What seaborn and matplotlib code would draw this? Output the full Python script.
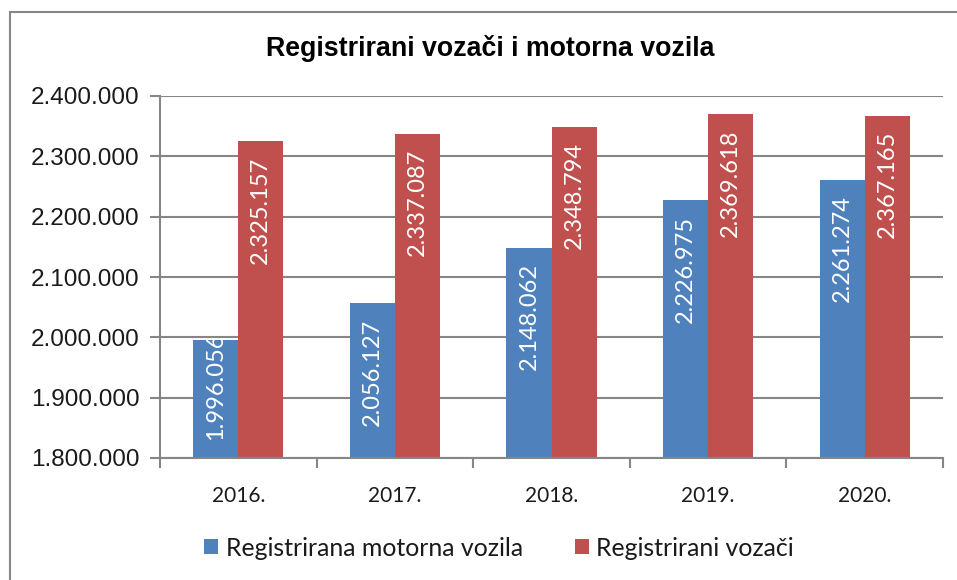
import matplotlib
matplotlib.use('Agg')
import matplotlib.pyplot as plt
import seaborn as sns
import pandas as pd
from matplotlib.patches import Rectangle

years = ['2016.', '2017.', '2018.', '2019.', '2020.']
vozila = [1996056, 2056127, 2148062, 2226975, 2261274]
vozaci = [2325157, 2337087, 2348794, 2369618, 2367165]
series = ['Registrirana motorna vozila', 'Registrirani vozači']
colors = ['#4F81BD', '#C0504D']
title = 'Registrirani vozači i motorna vozila'
yticks = list(range(1800000, 2400001, 100000))


def fmt(v):
    return f'{v:,}'.replace(',', '.')


df = pd.DataFrame({
    'Godina': years * 2,
    'Vrijednost': vozila + vozaci,
    'Serija': [series[0]] * len(years) + [series[1]] * len(years),
})

sns.set_theme(style='white')
plt.rcParams['font.family'] = ['Liberation Sans', 'DejaVu Sans']

GRAY = '#868686'
fig = plt.figure(figsize=(9.57, 5.8), dpi=100)
ax = fig.add_axes([160 / 957, 1 - 458 / 580, (943 - 160) / 957, (458 - 96) / 580])
sns.barplot(data=df, x='Godina', y='Vrijednost', hue='Serija', palette=colors,
            width=0.575, gap=0, saturation=1, ax=ax, legend=False,
            linewidth=0, errorbar=None)

ax.set_ylim(yticks[0], yticks[-1])
ax.set_yticks(yticks)
ax.set_yticklabels([fmt(t) for t in yticks], fontsize=17.5, color='#1a1a1a')
ax.set_xlim(-0.5, len(years) - 0.5)
ax.set_xticks(range(len(years)))
ax.set_xticklabels(years, fontsize=15, family=['Lato', 'DejaVu Sans'], color='#1a1a1a')
ax.set_xticks([i - 0.5 for i in range(len(years) + 1)], minor=True)
ax.tick_params(axis='x', which='major', length=0, pad=20)
ax.tick_params(axis='x', which='minor', length=7, width=1.5, color=GRAY, direction='out', bottom=True)
ax.tick_params(axis='y', which='major', length=7, width=1.5, color=GRAY, direction='out', left=True, pad=7.5)
ax.set_xlabel('')
ax.set_ylabel('')
ax.grid(axis='y', color=GRAY, linewidth=1.5)
ax.set_axisbelow(True)
for s in ['top', 'right']:
    ax.spines[s].set_visible(False)
for s in ['left', 'bottom']:
    ax.spines[s].set_color(GRAY)
    ax.spines[s].set_linewidth(1.5)

fig.canvas.draw()
renderer = fig.canvas.get_renderer()
vals = vozila + vozaci
for patch, v in zip(ax.patches, vals):
    xc = patch.get_x() + patch.get_width() / 2
    t = ax.annotate(fmt(v), (xc, v), xytext=(0, -11), textcoords='offset points',
                    rotation=90, ha='center', va='top', color='white', fontsize=17,
                    family=['Lato', 'DejaVu Sans'])
    t.set_clip_path(patch)
    bb = t.get_window_extent(renderer)
    base = ax.transData.transform((xc, yticks[0]))[1]
    if bb.y0 < base + 12:
        t.remove()
        t = ax.annotate(fmt(v), (xc, yticks[0]), xytext=(0, 13), textcoords='offset points',
                        rotation=90, ha='center', va='bottom', color='white', fontsize=17,
                        family=['Lato', 'DejaVu Sans'])
        t.set_clip_path(patch)

fig.text(490 / 957, 1 - 48 / 580, title, ha='center', va='center', fontsize=19.3,
         fontweight='bold', color='black')

handles = [Rectangle((0, 0), 1, 1, facecolor=c, edgecolor='none') for c in colors]
fig.legend(handles, series, loc='center', bbox_to_anchor=(499 / 957, 1 - 548 / 580),
           ncol=2, frameon=False, handlelength=0.55, handleheight=0.55, handletextpad=0.3,
           columnspacing=2.1, prop={'family': ['Lato', 'DejaVu Sans'], 'size': 17.9},
           labelcolor='#1a1a1a')

fig.add_artist(Rectangle((10 / 957, -0.1), 2, 1 - 12 / 580 + 0.1, transform=fig.transFigure,
                         fill=False, edgecolor=GRAY, linewidth=1.5))

fig.savefig('out.png', dpi=100)
